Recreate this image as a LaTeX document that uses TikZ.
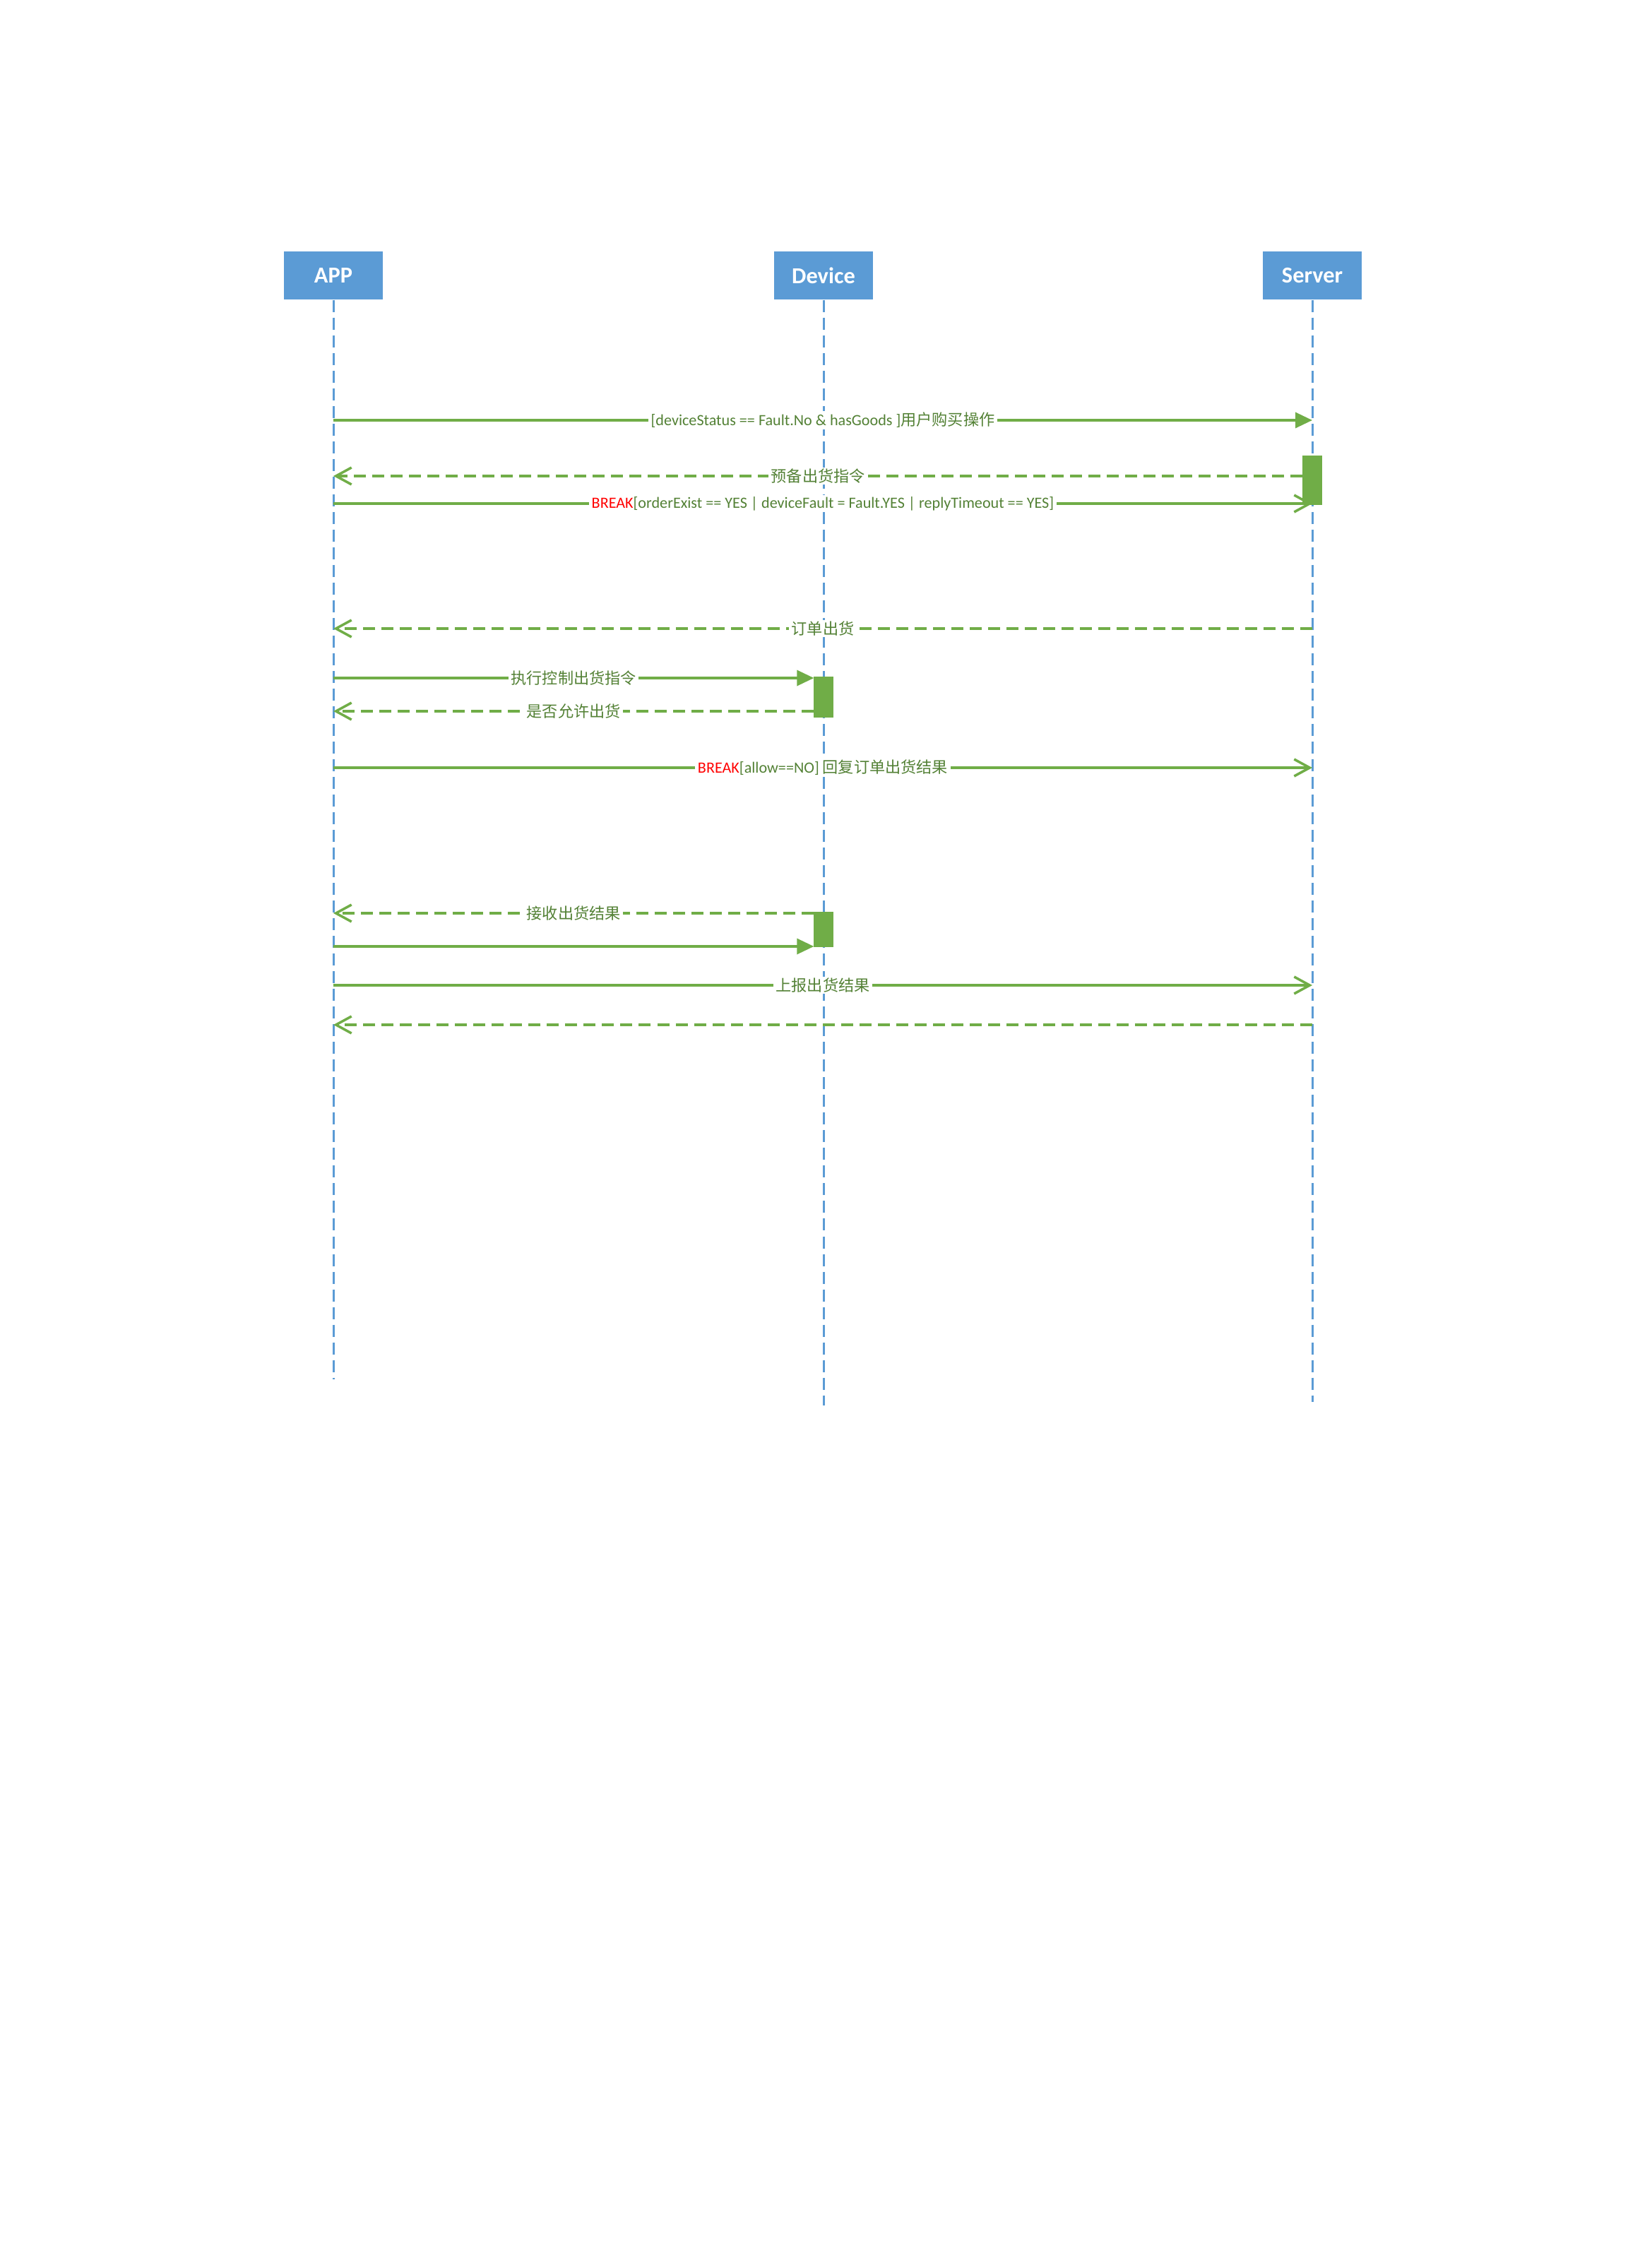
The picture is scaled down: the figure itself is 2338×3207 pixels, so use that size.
\documentclass[tikz,border=0pt]{standalone}
\usepackage{fontspec}
\setmainfont{Carlito}
\newfontfamily\cjk{Noto Sans CJK SC}
\usetikzlibrary{arrows.meta}
\definecolor{actorblue}{HTML}{5B9BD5}
\definecolor{msggreen}{HTML}{70AD47}
\definecolor{lblgreen}{HTML}{538135}
\newcommand{\zh}[1]{{\cjk #1}}

\begin{document}
\begin{tikzpicture}[x=0.01cm, y=-0.01cm,
    actor/.style={rectangle, fill=actorblue, text=white, minimum width=1.39cm, minimum height=0.68cm, inner sep=0pt, font=\fontsize{9.2}{11}\selectfont\bfseries},
    lifeline/.style={draw=actorblue, line width=0.85pt, dash pattern=on 0.17cm off 0.08cm},
    call/.style={draw=msggreen, line width=1pt, -{Triangle[length=0.24cm, width=0.22cm]}},
    send/.style={draw=msggreen, line width=1pt, -{Straight Barb[length=0.22cm, width=0.24cm]}},
    reply/.style={send, dash pattern=on 0.17cm off 0.09cm},
    lbl/.style={fill=white, text=lblgreen, inner xsep=1pt, inner ysep=0.5pt, font=\fontsize{6.3}{7.5}\selectfont},
    actbar/.style={rectangle, draw=msggreen, fill=msggreen, minimum width=0.26cm, inner sep=0pt}]
    \useasboundingbox (0,0) rectangle (2338,3207);

    % actors and lifelines
    \node [actor] (app) at (472,390) {APP};
    \node [actor] (device) at (1166,390) {Device};
    \node [actor] (server) at (1858,390) {Server};
    \coordinate (app end) at (472,1953);
    \coordinate (device end) at (1166,1990);
    \coordinate (server end) at (1858,1985);
    \draw [lifeline] (app) -- (app end);
    \draw [lifeline] (device) -- (device end);
    \draw [lifeline] (server) -- (server end);

    % message rows on each lifeline
    \foreach \n/\y in {1/595, 2/674, 3/713, 4/890, 5/960, 6/1007, 7/1087, 8/1293, 9/1340, 10/1395, 11/1451} {
        \coordinate (a\n) at (472,\y);
        \coordinate (d\n) at (1166,\y);
        \coordinate (s\n) at (1858,\y);
    }

    \draw [call] (a1) -- node [lbl] {[deviceStatus == Fault.No \& hasGoods ]\zh{用户购买操作}} (s1);
    \draw [send] (a3) -- node [lbl] {\textcolor{red}{BREAK}[orderExist == YES | deviceFault = Fault.YES | replyTimeout == YES]} (s3);
    \node [actbar, minimum height=0.68cm] (sbar) at (1858,680) {};
    \draw [reply] (s2 -| sbar.west) -- node [lbl] {\zh{预备出货指令}} (a2);
    \draw [reply] (s4) -- node [lbl] {\zh{订单出货}} (a4);

    \node [actbar, minimum height=0.57cm] (dbar1) at (1166,987) {};
    \draw [call] (a5) -- node [lbl] {\zh{执行控制出货指令}} (a5 -| dbar1.west);
    \draw [reply] (d6 -| dbar1.west) -- node [lbl] {\zh{是否允许出货}} (a6);
    \draw [send] (a7) -- node [lbl] {\textcolor{red}{BREAK}[allow==NO] \zh{回复订单出货结果}} (s7);

    \node [actbar, minimum height=0.49cm] (dbar2) at (1166,1316) {};
    \draw [reply] (d8 -| dbar2.west) -- node [lbl] {\zh{接收出货结果}} (a8);
    \draw [call] (a9) -- (a9 -| dbar2.west);
    \draw [send] (a10) -- node [lbl] {\zh{上报出货结果}} (s10);
    \draw [reply] (s11) -- (a11);
\end{tikzpicture}
\end{document}
